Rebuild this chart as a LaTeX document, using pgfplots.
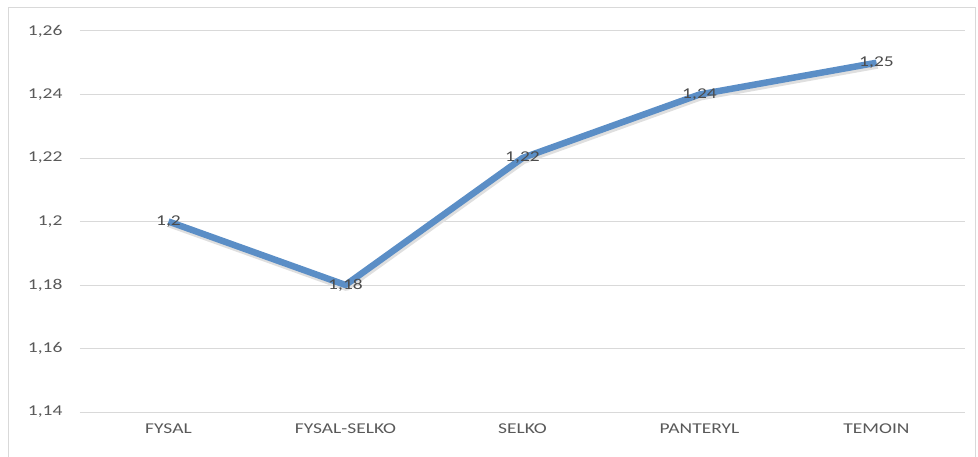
\documentclass[border=0pt]{standalone}
\usepackage{fontspec}
\setmainfont{Carlito}[FakeStretch=1.3]
\usepackage{pgfplots}
\pgfplotsset{compat=1.18}
\definecolor{txtc}{HTML}{595959}
\definecolor{gridc}{HTML}{D9D9D9}
\definecolor{lnc}{HTML}{5B8EC6}
\begin{document}
\begin{tikzpicture}[x=1pt,y=1pt]
\path[use as bounding box] (0,0) rectangle (978,456);
\draw[color=gridc, line width=1pt] (8,-2) -- (8,448) -- (975,448) -- (975,-2);
\begin{axis}[
  at={(80pt,44pt)}, anchor=south west,
  scale only axis, width=885pt, height=381pt,
  xmin=-0.5, xmax=4.5, ymin=1.14, ymax=1.26,
  xtick=data,
  xticklabels={FYSAL,FYSAL-SELKO,SELKO,PANTERYL,TEMOIN},
  ytick={1.14,1.16,1.18,1.2,1.22,1.24,1.26},
  /pgf/number format/use comma,
  /pgf/number format/assume math mode=true,
  yticklabel style={font=\fontsize{15}{17}\selectfont, text=txtc, xshift=-14pt},
  xticklabel style={font=\fontsize{15}{17}\selectfont, text=txtc, yshift=-8pt},
  axis line style={draw=none},
  major tick length=0pt,
  xmajorgrids=false, ymajorgrids=true,
  major grid style={draw=gridc, line width=1pt},
  clip=false,
]
\addplot[draw=gray!25, line width=7pt, line join=round, shift={(1pt,-2.5pt)}, forget plot] coordinates {(0,1.2) (1,1.18) (2,1.22) (3,1.24) (4,1.25)};
\addplot[draw=lnc, line width=6.5pt, line join=round,
  nodes near coords, nodes near coords align={center},
  every node near coord/.append style={font=\fontsize{15}{17}\selectfont, text=black!70, anchor=center}]
  coordinates {(0,1.2) (1,1.18) (2,1.22) (3,1.24) (4,1.25)};
\end{axis}
\end{tikzpicture}
\end{document}
